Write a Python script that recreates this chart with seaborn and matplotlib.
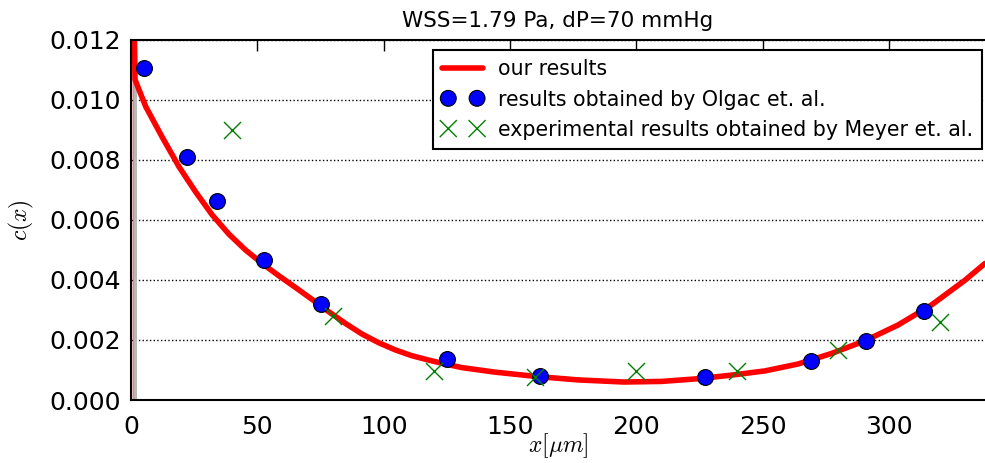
import matplotlib
matplotlib.use('Agg')

import matplotlib.pyplot as plt
import seaborn as sns

sns.set_style("white")
plt.rcParams['font.family'] = ['DejaVu Sans']
plt.rcParams['mathtext.fontset'] = 'cm'
plt.rcParams['text.color'] = 'black'
plt.rcParams['axes.labelcolor'] = 'black'
plt.rcParams['xtick.color'] = 'black'
plt.rcParams['ytick.color'] = 'black'

# our results
curve_x = [1.2, 1.6, 5.8, 12.4, 19, 25.6, 32.1, 38.7, 45.3, 51.9, 58.5, 65.1,
           71.7, 78.3, 84.9, 91.4, 98, 104.6, 111, 117.8, 124.4, 131, 144,
           161, 177, 195, 210, 224.5, 237.7, 250.9, 264, 277.2, 290.4, 303.6,
           316.7, 329.9, 338]
curve_y = [0.0130, 0.01067, 0.00978, 0.00875, 0.00777, 0.00693, 0.00617,
           0.00553, 0.00500, 0.00455, 0.00414, 0.00375, 0.00335, 0.00294,
           0.00255, 0.00220, 0.00191, 0.00167, 0.00148, 0.00133, 0.00120,
           0.00108, 0.00093, 0.00078, 0.00067, 0.00060, 0.00062, 0.00071,
           0.00083, 0.00097, 0.00120, 0.00155, 0.00197, 0.00250, 0.00316,
           0.00398, 0.00455]

# results obtained by Olgac et. al.
olgac_x = [5, 22, 34, 52.6, 75, 125, 162, 227, 269, 291, 314]
olgac_y = [0.01107, 0.0081, 0.00663, 0.00467, 0.0032, 0.00138, 0.0008,
           0.00076, 0.0013, 0.00195, 0.00298]

# experimental results obtained by Meyer et. al.
meyer_x = [40, 80, 120, 160, 200, 240, 280, 320]
meyer_y = [0.009, 0.0028, 0.00098, 0.00078, 0.00098, 0.00098, 0.00167, 0.00261]

fig = plt.figure(figsize=(9.85, 4.63), dpi=100)
ax = fig.add_axes([0.133, 0.136, 0.867, 0.778])

ax.axvspan(0.6, 2.2, color='0.72', lw=0)
ax.axvline(0.3, color='red', alpha=0.25, lw=2)

sns.lineplot(x=curve_x, y=curve_y, color='red', lw=4, sort=False,
             label='our results', ax=ax)
sns.scatterplot(x=olgac_x, y=olgac_y, marker='o', color='blue', edgecolor='black',
                linewidth=0.8, s=130, zorder=5,
                label='results obtained by Olgac et. al.', ax=ax)
sns.scatterplot(x=meyer_x, y=meyer_y, marker='x', color='green', linewidth=1,
                s=150, zorder=5,
                label='experimental results obtained by Meyer et. al.', ax=ax)

ax.set_xlim(0, 338)
ax.set_ylim(0, 0.012)
ax.set_yticks([0.0, 0.002, 0.004, 0.006, 0.008, 0.010, 0.012])
ax.set_yticklabels(['0.000', '0.002', '0.004', '0.006', '0.008', '0.010', '0.012'])
ax.set_xticks([0, 50, 100, 150, 200, 250, 300])
ax.yaxis.grid(True, linestyle=':', color='black', lw=1)
ax.xaxis.grid(False)

ax.tick_params(axis='both', direction='in', length=8, width=1, labelsize=18,
               top=True, right=False)
ax.tick_params(axis='x', pad=11)
ax.tick_params(axis='y', pad=7)
for side in ['left', 'bottom', 'top']:
    ax.spines[side].set_color('black')
    ax.spines[side].set_linewidth(1.5)
ax.spines['right'].set_visible(False)

ax.set_title("WSS=1.79 Pa, dP=70 mmHg", fontsize=15.5, pad=9)
ax.set_xlabel(r"$x[\mu m]$", fontsize=17)
ax.xaxis.set_label_coords(0.5, -0.088)
ax.set_ylabel(r"$c(x)$", fontsize=17, labelpad=10)

leg = ax.legend(loc='upper right', bbox_to_anchor=(982 / 985, 1 - 50 / 463),
                bbox_transform=fig.transFigure, borderaxespad=0,
                scatterpoints=2, scatteryoffsets=[0.5],
                fontsize=14.8, frameon=True, fancybox=False, framealpha=1,
                handlelength=2.0, handletextpad=0.7, borderpad=0.45)
leg.get_frame().set_edgecolor('black')
leg.get_frame().set_linewidth(1.5)

plt.savefig("out.png", dpi=100)
plt.close()
